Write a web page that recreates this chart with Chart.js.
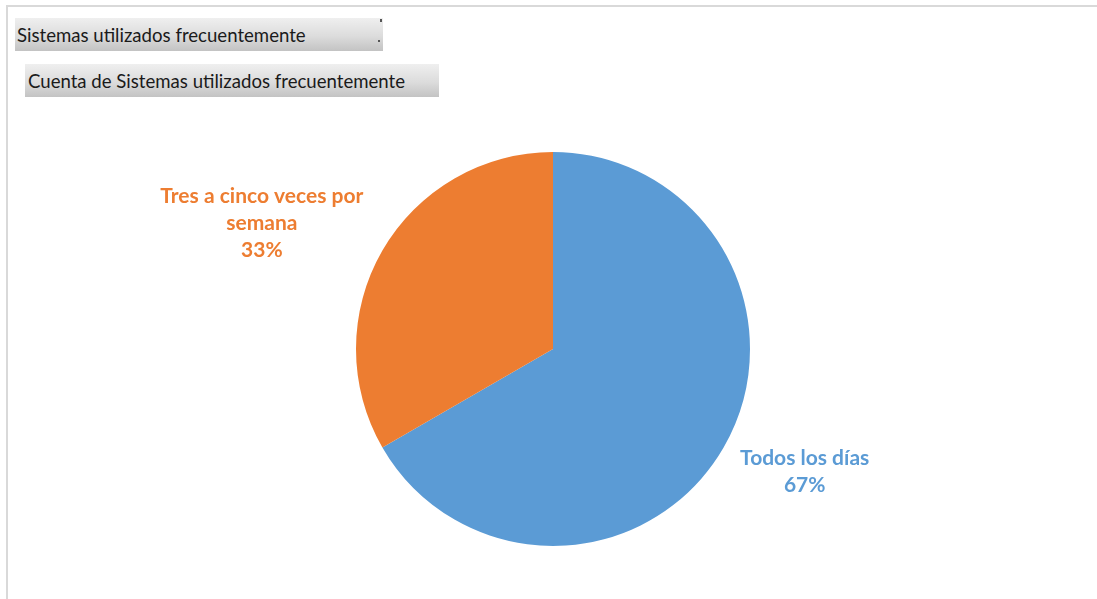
<!DOCTYPE html>
<html lang="es">
<head>
<meta charset="utf-8">
<title>Sistemas utilizados frecuentemente</title>
<script src="https://cdn.jsdelivr.net/npm/chart.js@4/dist/chart.umd.min.js"></script>
<style>
  html, body { margin: 0; padding: 0; background: #ffffff; }
  #wrap { position: relative; width: 1097px; height: 599px; overflow: hidden; }
  #frame {
    position: absolute; left: 6px; top: 5px; width: 1200px; height: 700px;
    border-left: 2px solid #d9d9d9; border-top: 2px solid #d9d9d9;
  }
  .fieldBtn {
    position: absolute; box-sizing: border-box; height: 33px;
    background: linear-gradient(to bottom, #efefef 0%, #dcdcdc 55%, #c3c3c3 100%);
    font-family: Lato, "Open Sans", sans-serif; font-size: 18.6px; color: #1a1a1a;
    line-height: 34px; padding-left: 2px; white-space: nowrap;
  }
  #btnField { left: 15px; top: 18px; width: 368px; }
  #btnValue { left: 25px; top: 64px; width: 414px; padding-left: 3px; }
  .tick { position: absolute; width: 2px; height: 2px; background: #555555; }
  canvas { position: absolute; left: 0; top: 0; }
</style>
</head>
<body>
<div id="wrap">
  <div id="frame"></div>
  <div class="fieldBtn" id="btnField">Sistemas utilizados frecuentemente</div>
  <div class="tick" style="left:380px; top:19px; height:3px;"></div>
  <div class="tick" style="left:378px; top:40px;"></div>
  <div class="fieldBtn" id="btnValue">Cuenta de Sistemas utilizados frecuentemente</div>
  <canvas id="pieChart" width="1097" height="599"></canvas>
</div>

<script>
const categories = ['Todos los días', 'Tres a cinco veces por semana'];
const counts = [2, 1];
const sliceColors = ['#5B9BD5', '#ED7D31'];
// label wrapping as shown in the chart
const labelLines = [['Todos los días'], ['Tres a cinco veces por', 'semana']];

// draws "category / percent" labels outside each slice
const outsideLabels = {
    id: 'outsideLabels',
    afterDatasetsDraw(chart, args, opts) {
        const ctx = chart.ctx;
        const meta = chart.getDatasetMeta(0);
        const data = chart.data.datasets[0].data;
        const total = data.reduce((a, b) => a + b, 0);
        ctx.save();
        ctx.font = opts.font;
        ctx.textAlign = 'center';
        ctx.textBaseline = 'middle';
        meta.data.forEach((arc, i) => {
            const mid = (arc.startAngle + arc.endAngle) / 2 + opts.angleNudge[i] * Math.PI / 180;
            const dist = arc.outerRadius + opts.offsets[i];
            const cx = arc.x + Math.cos(mid) * dist;
            const cy = arc.y + Math.sin(mid) * dist;
            const lines = labelLines[i].concat([Math.round(data[i] / total * 100) + '%']);
            const top = cy - (lines.length - 1) * opts.lineHeight / 2;
            ctx.fillStyle = sliceColors[i];
            lines.forEach((t, k) => ctx.fillText(t, cx, top + k * opts.lineHeight));
        });
        ctx.restore();
    }
};

new Chart(document.getElementById('pieChart').getContext('2d'), {
    type: 'pie',
    data: {
        labels: categories,
        datasets: [{
            data: counts,
            backgroundColor: sliceColors,
            borderWidth: 0
        }]
    },
    options: {
        responsive: false,
        animation: false,
        devicePixelRatio: 1,
        layout: { padding: { left: 9, right: 0, top: 152, bottom: 53 } },
        plugins: {
            legend: { display: false },
            tooltip: { enabled: false },
            outsideLabels: {
                font: 'bold 21px Lato, "Open Sans", sans-serif',
                lineHeight: 27,
                offsets: [83, 120],
                angleNudge: [-4, -6.7]
            }
        }
    },
    plugins: [outsideLabels]
});
</script>
</body>
</html>
